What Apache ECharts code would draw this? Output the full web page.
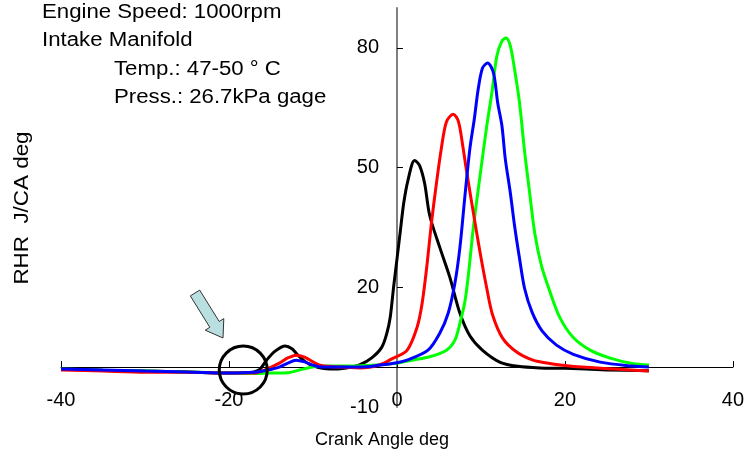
<!DOCTYPE html>
<html>
<head>
<meta charset="utf-8">
<script src="https://cdn.jsdelivr.net/npm/echarts@6/dist/echarts.min.js"></script>
<style>
  html, body { margin: 0; padding: 0; background: #fff; }
  #chart { width: 747px; height: 456px; }
</style>
</head>
<body>
<div id="chart"></div>
<script>
// crank angle [deg], RHR [J/CA deg]
const blackCurve = [
  [-40, -0.5], [-35, -0.8], [-30, -1], [-25, -1.2], [-20, -1.5], [-18, -1.5], [-17, -1.2],
  [-16.3, -0.5], [-15.5, 1.8], [-14.5, 4], [-13.3, 5.3], [-12.5, 4.6], [-11.8, 3], [-11, 1.5],
  [-10, 0.3], [-8, -0.5], [-6, -0.2], [-4.4, 0.6], [-3, 2.3], [-1.8, 5], [-1.2, 8.5],
  [-0.8, 12.5], [-0.4, 20], [0, 27], [0.4, 34], [0.8, 41], [1.3, 46.7], [2.1, 51.8],
  [2.7, 50.5], [3.3, 46], [3.9, 38], [5.1, 30], [6.3, 22.5], [7.5, 13.5], [8.7, 7.8],
  [10.2, 4.2], [12.3, 1.2], [14.4, 0.2], [17, -0.2], [20, -0.3], [25, -0.7], [30, -0.9]
]
const redCurve = [
  [-40, -0.7], [-35, -1], [-30, -1.3], [-25, -1.3], [-20, -1.5], [-17, -1.5], [-15.5, -0.5],
  [-14, 1], [-13, 2.3], [-12, 3], [-11, 2.5], [-10, 1.3], [-9, 0.4], [-7, 0], [-4.4, -0.2],
  [-2, 0.6], [-0.5, 2.2], [1.2, 4.2], [2.4, 10], [3, 16], [3.6, 26], [4.1, 36], [4.7, 46],
  [5.3, 55], [5.9, 61.5], [6.7, 63.4], [7.3, 61.7], [7.8, 56], [8.3, 49], [9.1, 38.7],
  [9.9, 28.7], [10.7, 19.7], [11.4, 13], [12.6, 7.2], [14.3, 3.7], [16.2, 1.75], [18.2, 0.9],
  [20, 0.4], [22, 0], [26, -0.5], [30, -1]
]
const blueCurve = [
  [-40, -0.5], [-35, -0.7], [-30, -1], [-25, -1.2], [-20, -1.5], [-17, -1.3], [-15.5, -0.8],
  [-14, 0], [-13, 1], [-12, 1.7], [-11, 1.3], [-10, 0.5], [-9, 0], [-6, 0], [-4.4, 0],
  [-2, 0.5], [0, 1.1], [1.2, 1.75], [3.7, 4.25], [5.1, 8.5], [6.1, 13.5], [6.9, 21],
  [7.5, 30], [8.1, 43], [8.7, 55], [9.2, 62], [9.7, 70], [10.2, 75], [10.8, 76.2],
  [11.5, 73.7], [12, 66.2], [12.5, 60.5], [12.9, 52.2], [13.5, 43.7], [14, 35.5],
  [14.6, 27.2], [15.2, 19.7], [16.1, 13.7], [17.3, 9], [19, 5.5], [21, 3.2], [24.2, 1.25],
  [28, 0.25], [30, 0]
]
const greenCurve = [
  [-40, -0.5], [-35, -0.8], [-30, -1], [-25, -1.2], [-20, -1.5], [-17, -1.6], [-15, -1.5],
  [-13, -1.4], [-11.2, -0.5], [-9.2, 0.25], [-5, 0.3], [-2, 0.6], [0, 1], [2, 1.8],
  [3.9, 2.6], [5.9, 4.25], [6.9, 6.75], [7.5, 11], [8.1, 16.5], [8.5, 23], [9.1, 35],
  [9.9, 48], [10.7, 60.5], [11.3, 68.7], [11.9, 78], [12.5, 81.7], [13, 82.5], [13.5, 80.5],
  [14, 74.7], [14.6, 66.2], [15.2, 54], [15.8, 43.7], [16.4, 33.7], [17.2, 25.5],
  [18.2, 19], [19.4, 12.4], [21, 7.4], [23, 4.25], [25.4, 2.25], [28, 0.9], [30, 0.5]
]
const yTickValues = [-10, 20, 50, 80]
const noteLines = ['Engine Speed: 1000rpm', 'Intake Manifold', 'Temp.: 47-50 ° C', 'Press.: 26.7kPa gage']
const circleCenter = [-18.3, -0.75]

const FONT = '"Liberation Sans", Arial, sans-serif'
const chart = echarts.init(document.getElementById('chart'))

function lineSeries(name, color, data) {
  return {
    name,
    type: 'line',
    data,
    smooth: 0.3,
    showSymbol: false,
    silent: true,
    lineStyle: { color, width: 3 },
  }
}

chart.setOption({
  animation: false,
  textStyle: { fontFamily: FONT },
  grid: { left: 61, right: 14, top: 8, bottom: 49, containLabel: false },
  xAxis: {
    type: 'value',
    min: -40,
    max: 40,
    interval: 20,
    axisLine: { onZero: true, lineStyle: { color: '#000', width: 1 } },
    axisTick: { inside: true, length: 6, lineStyle: { color: '#000' } },
    // labels stay at the grid edge, so pull them up to sit under the zero line
    axisLabel: { margin: -17, fontSize: 20, color: '#000', fontFamily: FONT },
    splitLine: { show: false },
  },
  yAxis: {
    type: 'value',
    min: -10,
    max: 90,
    interval: 30,
    axisLine: { show: true, onZero: true, lineStyle: { color: '#808080', width: 2 } },
    axisTick: {
      inside: true, length: 6, customValues: yTickValues.slice(1),
      lineStyle: { color: '#000' },
    },
    axisLabel: {
      margin: -318, fontSize: 20, color: '#000', fontFamily: FONT,
      customValues: yTickValues,
    },
    splitLine: { show: false },
  },
  series: [
    lineSeries('black', '#000000', blackCurve),
    lineSeries('green', '#00ff00', greenCurve),
    lineSeries('red', '#ff0000', redCurve),
    lineSeries('blue', '#0000ff', blueCurve),
  ],
})

const c = chart.convertToPixel({ gridIndex: 0 }, circleCenter)
const textStyle = (text, size) => ({ text, font: (size || 20) + 'px ' + FONT, fill: '#000', verticalAlign: 'middle' })

chart.setOption({
  graphic: [
    { type: 'text', x: 42, y: 12, scaleX: 1.11, style: textStyle(noteLines[0]) },
    { type: 'text', x: 42, y: 40, scaleX: 1.11, style: textStyle(noteLines[1]) },
    { type: 'text', x: 114, y: 69, scaleX: 1.11, style: textStyle(noteLines[2]) },
    { type: 'text', x: 114, y: 97, scaleX: 1.11, style: textStyle(noteLines[3]) },
    { type: 'text', x: 382, y: 440, style: { ...textStyle('Crank Angle deg', 18), align: 'center' } },
    {
      type: 'text', x: 22, y: 208, rotation: Math.PI / 2, scaleX: 1.12,
      style: { ...textStyle('RHR  J/CA deg'), align: 'center' },
    },
    {
      type: 'circle',
      shape: { cx: c[0], cy: c[1], r: 24 },
      style: { fill: 'none', stroke: '#000', lineWidth: 3 },
      z: 10,
    },
    {
      type: 'polygon',
      shape: {
        points: [[190.3, 295.9], [209.8, 327.3], [205.2, 330.2], [223, 338],
                 [223.8, 318.6], [219.2, 321.5], [199.7, 290.1]],
      },
      style: { fill: '#b9dfe1', stroke: '#333', lineWidth: 1 },
      z: 10,
    },
  ],
})
</script>
</body>
</html>
